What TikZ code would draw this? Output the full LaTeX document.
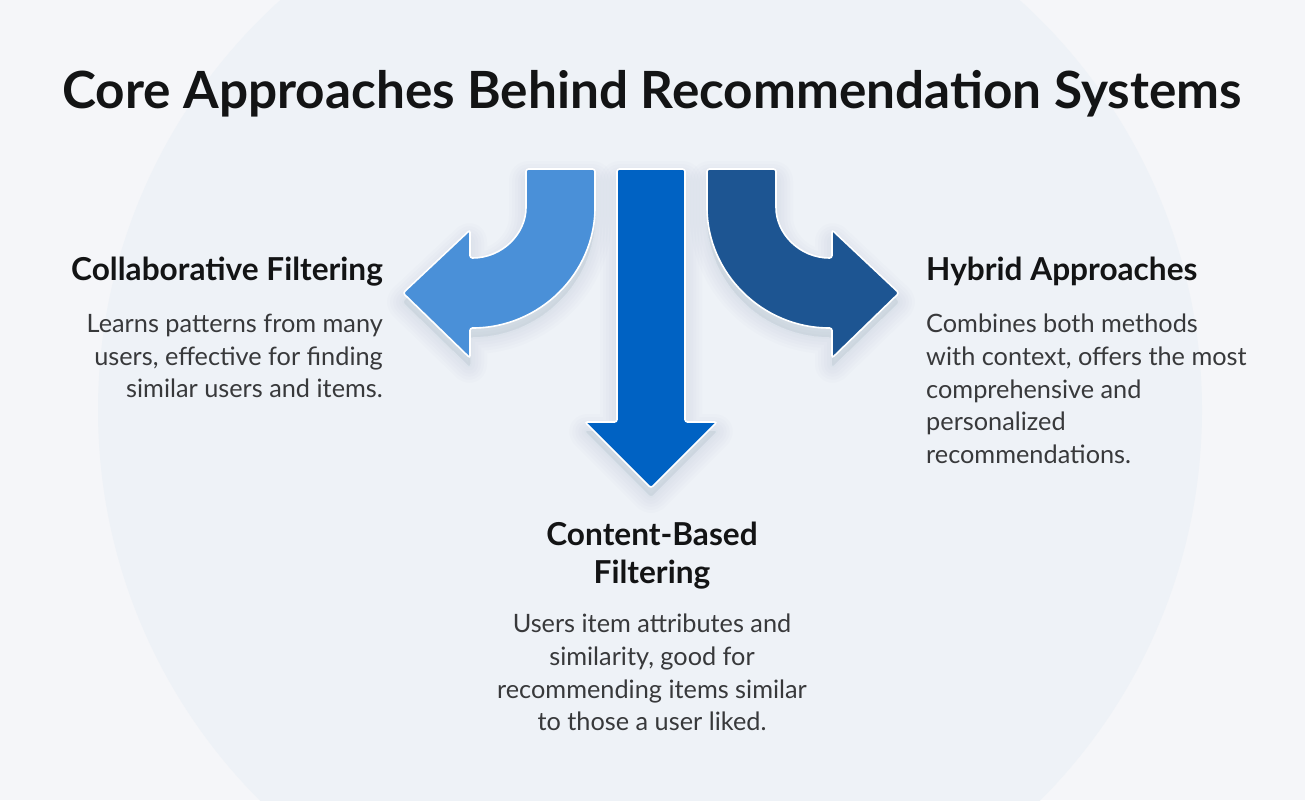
\documentclass[tikz,border=0pt]{standalone}
\usepackage{fontspec}
\setmainfont{Lato}

\definecolor{pagebg}{HTML}{F5F6F9}
\definecolor{discbg}{HTML}{EEF2F7}
\definecolor{collabblue}{HTML}{4A90D8}
\definecolor{contentblue}{HTML}{0062C3}
\definecolor{hybridblue}{HTML}{1D5592}
\definecolor{headtext}{HTML}{131415}
\definecolor{bodytext}{HTML}{38393B}
\definecolor{glow}{HTML}{7E93B5}

% outlines of the three arrows
\newcommand\collabarrow{(526,169) -- (595,169) -- (595,205)
  .. controls (595,273) and (540,328) .. (470,328) -- (470,358) -- (403,293) -- (470,230) -- (470,258)
  .. controls (502,258) and (526,234) .. (526,205) -- cycle}
\newcommand\hybridarrow{(776,169) -- (707,169) -- (707,205)
  .. controls (707,273) and (762,328) .. (832,328) -- (832,358) -- (899,293) -- (832,230) -- (832,258)
  .. controls (800,258) and (776,234) .. (776,205) -- cycle}
\newcommand\contentarrow{(617,169) -- (685,169) -- (685,422) -- (717,422) -- (651,488)
  -- (585,422) -- (617,422) -- cycle}

\begin{document}
\begin{tikzpicture}[x=1pt,y=-1pt,
  bigarrow/.style={draw=white, line width=1.6pt, rounded corners=2.5pt},
  softglow/.style={draw=glow, fill=glow, line join=round, rounded corners=2.5pt, opacity=0.022, shift={(0,9)}},
  maintitle/.style={inner sep=0pt, text=headtext, font=\bfseries\fontsize{51.3}{58}\selectfont},
  heading/.style={inner sep=0pt, text=headtext, font=\bfseries\fontsize{31.6}{38}\selectfont},
  body/.style={inner sep=0pt, text=bodytext, font=\fontsize{25.3}{32.7}\selectfont}]
\useasboundingbox (0,0) rectangle (1305,800);
\fill [pagebg] (0,0) rectangle (1305,800);
\begin{scope}
\clip (0,0) rectangle (1305,800);
\fill [discbg] (650,410) circle (552);
\end{scope}

% title
\node [maintitle, anchor=base] (title) at (652,108) {Core Approaches Behind Recommendation Systems};

% soft shadows under the arrows
\foreach \w in {4,10,16,22,28,34} {
  \path [softglow, line width=\w pt] \collabarrow;
  \path [softglow, line width=\w pt] \hybridarrow;
  \path [softglow, line width=\w pt] \contentarrow;
}

% the three arrows
\path [bigarrow, fill=collabblue] \collabarrow;
\path [bigarrow, fill=hybridblue] \hybridarrow;
\path [bigarrow, fill=contentblue] \contentarrow;

% left block
\node [heading, anchor=base east] (collab) at (383,280) {Collaborative Filtering};
\node [body, anchor=north east, align=right] (collabtxt) at (383,314)
  {Learns patterns from many\\users, effective for finding\\similar users and items.};

% right block
\node [heading, anchor=base west] (hybrid) at (926,280) {Hybrid Approaches};
\node [body, anchor=north west, align=left] (hybridtxt) at (926,314)
  {Combines both methods\\with context, offers the most\\comprehensive and\\personalized\\recommendations.};

% bottom block
\node [heading, anchor=north, align=center] (content) at (652,522) {Content-Based\\Filtering};
\node [body, anchor=north, align=center] (contenttxt) at (652,614)
  {Users item attributes and\\similarity, good for\\recommending items similar\\to those a user liked.};
\end{tikzpicture}
\end{document}
